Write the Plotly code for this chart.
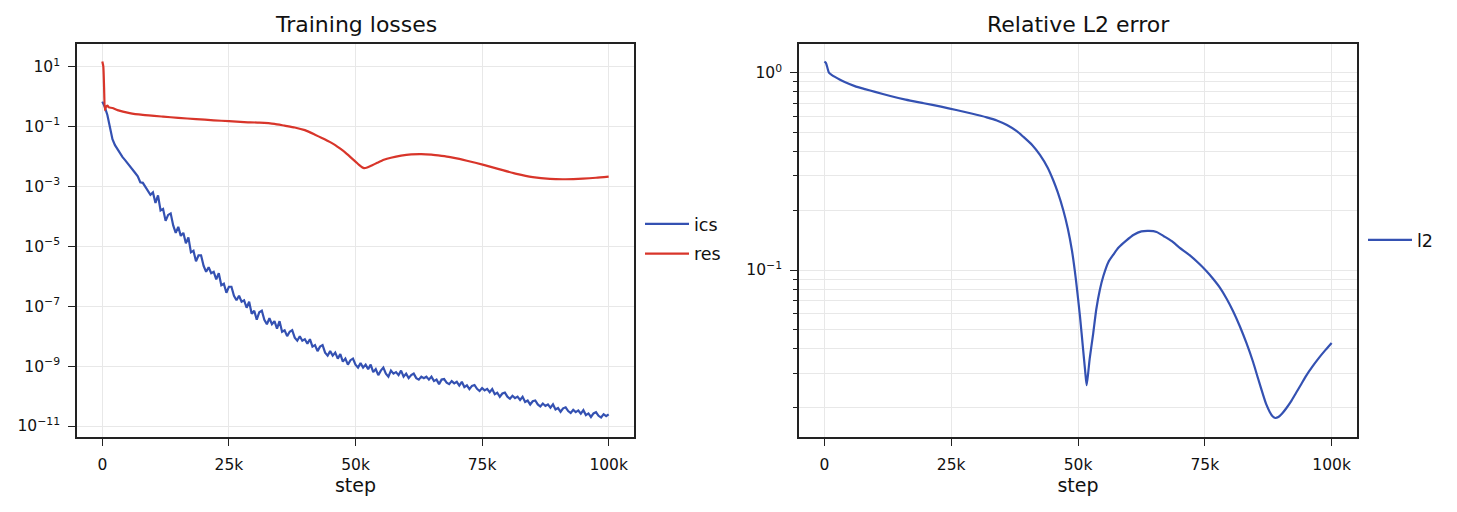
import plotly.graph_objects as go

# ---------------- data ----------------
# ics loss, logged every 500 steps (0 .. 100k)
ics_values = [
    6.8e-1, 4.47e-1, 2.45e-1, 8.91e-2, 3.8e-2, 2.4e-2, 1.74e-2, 1.2e-2, 9.55e-3, 7.59e-3,
    6.03e-3, 4.57e-3, 3.8e-3, 2.82e-3, 2.19e-3, 1.38e-3, 1.32e-3, 9.55e-4, 7.59e-4, 5.25e-4,
    6.31e-4, 2.82e-4, 5.01e-4, 1.58e-4, 1.78e-4, 7.08e-5, 1.12e-4, 1.26e-4, 5.01e-5, 2.82e-5,
    4.47e-5, 2.24e-5, 2.82e-5, 1.26e-5, 2.00e-5, 6.31e-6, 7.08e-6, 3.16e-6, 5.01e-6, 5.01e-6,
    2.24e-6, 1.41e-6, 2.00e-6, 1.26e-6, 1.41e-6, 7.94e-7, 1.26e-6, 5.01e-7, 5.62e-7, 2.82e-7,
    4.47e-7, 4.47e-7, 2.24e-7, 1.58e-7, 2.24e-7, 1.41e-7, 1.58e-7, 8.91e-8, 1.41e-7, 5.62e-8,
    7.08e-8, 3.55e-8, 6.31e-8, 7.08e-8, 3.55e-8, 2.51e-8, 3.98e-8, 2.51e-8, 3.16e-8, 1.78e-8,
    3.16e-8, 1.41e-8, 1.58e-8, 1.00e-8, 1.41e-8, 1.58e-8, 8.91e-9, 7.08e-9, 1.00e-8, 7.08e-9,
    7.94e-9, 5.62e-9, 7.94e-9, 4.47e-9, 5.01e-9, 3.16e-9, 4.47e-9, 5.01e-9, 2.82e-9, 2.24e-9,
    3.16e-9, 2.24e-9, 2.82e-9, 1.78e-9, 2.51e-9, 1.41e-9, 1.78e-9, 1.12e-9, 1.58e-9, 1.78e-9,
    1.12e-9, 8.91e-10, 1.26e-9, 8.91e-10, 1.12e-9, 7.94e-10, 1.12e-9, 6.31e-10, 7.94e-10, 5.01e-10,
    7.08e-10, 8.91e-10, 5.62e-10, 4.47e-10, 7.08e-10, 5.62e-10, 6.31e-10, 5.01e-10, 7.08e-10, 4.47e-10,
    5.62e-10, 3.98e-10, 5.01e-10, 5.62e-10, 3.98e-10, 3.55e-10, 4.47e-10, 3.98e-10, 4.47e-10, 3.55e-10,
    4.47e-10, 3.16e-10, 3.55e-10, 2.51e-10, 3.55e-10, 3.7e-10, 2.82e-10, 2.51e-10, 3.16e-10, 2.65e-10,
    3.0e-10, 2.24e-10, 3.0e-10, 2.00e-10, 2.29e-10, 1.70e-10, 2.19e-10, 2.34e-10, 1.74e-10, 1.48e-10,
    1.86e-10, 1.55e-10, 1.74e-10, 1.34e-10, 1.72e-10, 1.15e-10, 1.29e-10, 9.5e-11, 1.22e-10, 1.30e-10,
    9.55e-11, 8.13e-11, 1.02e-10, 8.51e-11, 9.55e-11, 7.37e-11, 9.44e-11, 6.35e-11, 7.08e-11, 5.22e-11,
    6.68e-11, 7.12e-11, 5.25e-11, 4.47e-11, 5.62e-11, 4.68e-11, 5.25e-11, 4.07e-11, 5.25e-11, 3.55e-11,
    3.98e-11, 2.99e-11, 3.89e-11, 4.22e-11, 3.16e-11, 2.72e-11, 3.47e-11, 2.92e-11, 3.31e-11, 2.60e-11,
    3.39e-11, 2.32e-11, 2.63e-11, 2.00e-11, 2.63e-11, 2.88e-11, 2.19e-11, 1.92e-11, 2.48e-11, 2.13e-11,
    2.45e-11,
]
ics_steps = [500 * i for i in range(len(ics_values))]

res_steps = [0, 200, 350, 500, 700, 1000, 1300, 2000, 3000, 5400, 8000, 12000, 15000,
             18500, 22000, 25000, 28000, 31000, 34000, 36000, 38000, 40000, 42000, 44000,
             45000, 46000, 47000, 48000, 49000, 50000, 50700, 51300, 51700, 52300, 53200,
             54300, 55600, 57000, 59000, 61000, 63000, 65000, 67000, 68700, 70500, 72000,
             75300, 78500, 81800, 85000, 88400, 91500, 94900, 97500, 100000]
res_values = [14.8, 10.0, 2.0, 0.355, 0.447, 0.50, 0.437, 0.417, 0.355, 0.282, 0.245,
              0.214, 0.195, 0.178, 0.162, 0.151, 0.141, 0.135, 0.123, 0.107, 0.0933,
              0.0759, 0.0537, 0.0372, 0.0302, 0.0240, 0.0182, 0.0135, 9.55e-3, 6.76e-3,
              5.25e-3, 4.37e-3, 4.07e-3, 4.27e-3, 5.01e-3, 6.17e-3, 7.76e-3, 9.12e-3,
              0.0107, 0.01175, 0.0120, 0.01148, 0.01047, 9.55e-3, 8.32e-3, 7.24e-3,
              5.25e-3, 3.72e-3, 2.63e-3, 2.04e-3, 1.78e-3, 1.74e-3, 1.82e-3, 1.95e-3, 2.14e-3]

l2_steps = [0, 300, 600, 900, 1500, 2000, 3000, 4000, 6000, 8000, 10000, 13000, 16000,
            19600, 23000, 26000, 29000, 32000, 34000, 36000, 38000, 39200, 41000, 42500,
            44000, 45100, 46000, 47100, 48000, 48800, 49600, 50400, 51000, 51400, 51700,
            52000, 52300, 53000, 53600, 54300, 55000, 56000, 57000, 58000, 59500, 61000,
            62500, 64000, 65500, 67000, 68500, 70000, 72000, 74000, 75300, 76500, 78000,
            79300, 80600, 81900, 83200, 84500, 85500, 86400, 87100, 87800, 88400, 88900,
            89500, 90200, 91100, 92000, 93000, 94000, 95000, 96200, 97500, 98800, 100000]
l2_values = [1.138, 1.122, 1.059, 1.000, 0.973, 0.955, 0.923, 0.897, 0.855, 0.826, 0.800,
             0.762, 0.730, 0.700, 0.673, 0.647, 0.621, 0.594, 0.573, 0.543, 0.504, 0.474,
             0.429, 0.383, 0.331, 0.286, 0.248, 0.201, 0.162, 0.126, 0.089, 0.0579, 0.0398,
             0.031, 0.0261, 0.030, 0.0355, 0.0478, 0.0631, 0.0793, 0.0933, 0.110, 0.120,
             0.130, 0.141, 0.151, 0.157, 0.158, 0.156, 0.148, 0.140, 0.130, 0.119, 0.107,
             0.0989, 0.0912, 0.0813, 0.0716, 0.0617, 0.0519, 0.0427, 0.0343, 0.0282, 0.0237,
             0.0209, 0.0191, 0.0181, 0.0178, 0.0180, 0.0187, 0.0200, 0.0216, 0.0239, 0.0264,
             0.0292, 0.0324, 0.0359, 0.0394, 0.0427]

x_tickvals = [0, 25000, 50000, 75000, 100000]
x_ticktext = ["0", "25k", "50k", "75k", "100k"]
left_tickvals = [1e1, 1e-1, 1e-3, 1e-5, 1e-7, 1e-9, 1e-11]
left_ticktext = ["10<sup>1</sup>", "10<sup>\u22121</sup>", "10<sup>\u22123</sup>",
                 "10<sup>\u22125</sup>", "10<sup>\u22127</sup>", "10<sup>\u22129</sup>",
                 "10<sup>\u221211</sup>"]
right_tickvals = [1e-1, 1e0]
right_ticktext = ["10<sup>\u22121</sup>", "10<sup>0</sup>"]
right_minor = [0.02, 0.03, 0.04, 0.05, 0.06, 0.07, 0.08, 0.09,
               0.2, 0.3, 0.4, 0.5, 0.6, 0.7, 0.8, 0.9]

# ---------------- styling ----------------
BLUE = "#3451b2"
RED = "#d8352a"
FONT = "DejaVu Sans"
TXT = "#111111"
W, H = 1457, 512

fig = go.Figure()
fig.add_trace(go.Scatter(x=ics_steps, y=ics_values, name="ics", mode="lines",
                         line=dict(color=BLUE, width=2.2), xaxis="x", yaxis="y",
                         legend="legend", legendgroup="a"))
fig.add_trace(go.Scatter(x=res_steps, y=res_values, name="res", mode="lines",
                         line=dict(color=RED, width=2.2, shape="spline", smoothing=0.5),
                         xaxis="x", yaxis="y", legend="legend", legendgroup="b"))
fig.add_trace(go.Scatter(x=l2_steps, y=l2_values, name="l2", mode="lines",
                         line=dict(color=BLUE, width=2.2, shape="spline", smoothing=0.6),
                         xaxis="x2", yaxis="y2", legend="legend2"))

axis_common = dict(showline=True, linecolor="#222222", linewidth=1.6, mirror=True,
                   ticks="outside", ticklen=7, tickwidth=1.4, tickcolor="#222222",
                   showgrid=True, gridcolor="#e8e8e8", gridwidth=1.2, zeroline=False,
                   tickfont=dict(family=FONT, size=15.5, color=TXT))

ydom = [1 - 437 / H, 1 - 44 / H]
xtitle = dict(text="step", font=dict(family=FONT, size=19, color=TXT), standoff=4)

fig.update_layout(
    width=W, height=H,
    margin=dict(l=0, r=0, t=0, b=0),
    paper_bgcolor="white", plot_bgcolor="white",
    font=dict(family=FONT, color=TXT),
    xaxis=dict(domain=[77 / W, 634 / W], range=[-5000, 105000],
               tickvals=x_tickvals, ticktext=x_ticktext, ticklabelstandoff=6,
               title=xtitle, anchor="y", **axis_common),
    yaxis=dict(domain=ydom, type="log", range=[-11.367, 1.757],
               tickvals=left_tickvals, ticktext=left_ticktext, ticklabelstandoff=5,
               anchor="x", **axis_common),
    xaxis2=dict(domain=[799 / W, 1357 / W], range=[-5000, 105000],
                tickvals=x_tickvals, ticktext=x_ticktext, ticklabelstandoff=6,
                title=xtitle, anchor="y2", **axis_common),
    yaxis2=dict(domain=ydom, type="log", range=[-1.846, 0.1455],
                tickvals=right_tickvals, ticktext=right_ticktext, ticklabelstandoff=5,
                minor=dict(tickvals=right_minor, ticks="outside", ticklen=4,
                           tickcolor="#222222", tickwidth=1.1,
                           showgrid=True, gridcolor="#e8e8e8", gridwidth=1.2),
                anchor="x2", **axis_common),
    legend=dict(x=640 / W, y=1 - 239 / H, xanchor="left", yanchor="middle",
                bgcolor="rgba(0,0,0,0)", borderwidth=0, itemwidth=44,
                font=dict(family=FONT, size=17.5, color=TXT),
                traceorder="grouped", tracegroupgap=4),
    legend2=dict(x=1363 / W, y=1 - 240 / H, xanchor="left", yanchor="middle",
                 bgcolor="rgba(0,0,0,0)", borderwidth=0, itemwidth=44,
                 font=dict(family=FONT, size=17.5, color=TXT)),
    annotations=[
        dict(text="Training losses", x=(77 + 634) / 2 / W, y=1 - 24 / H, xref="paper", yref="paper",
             showarrow=False, xanchor="center", yanchor="middle",
             font=dict(family=FONT, size=22, color=TXT)),
        dict(text="Relative L2 error", x=(799 + 1357) / 2 / W, y=1 - 24 / H, xref="paper", yref="paper",
             showarrow=False, xanchor="center", yanchor="middle",
             font=dict(family=FONT, size=22, color=TXT)),
    ],
)

fig.write_html("out.html")
